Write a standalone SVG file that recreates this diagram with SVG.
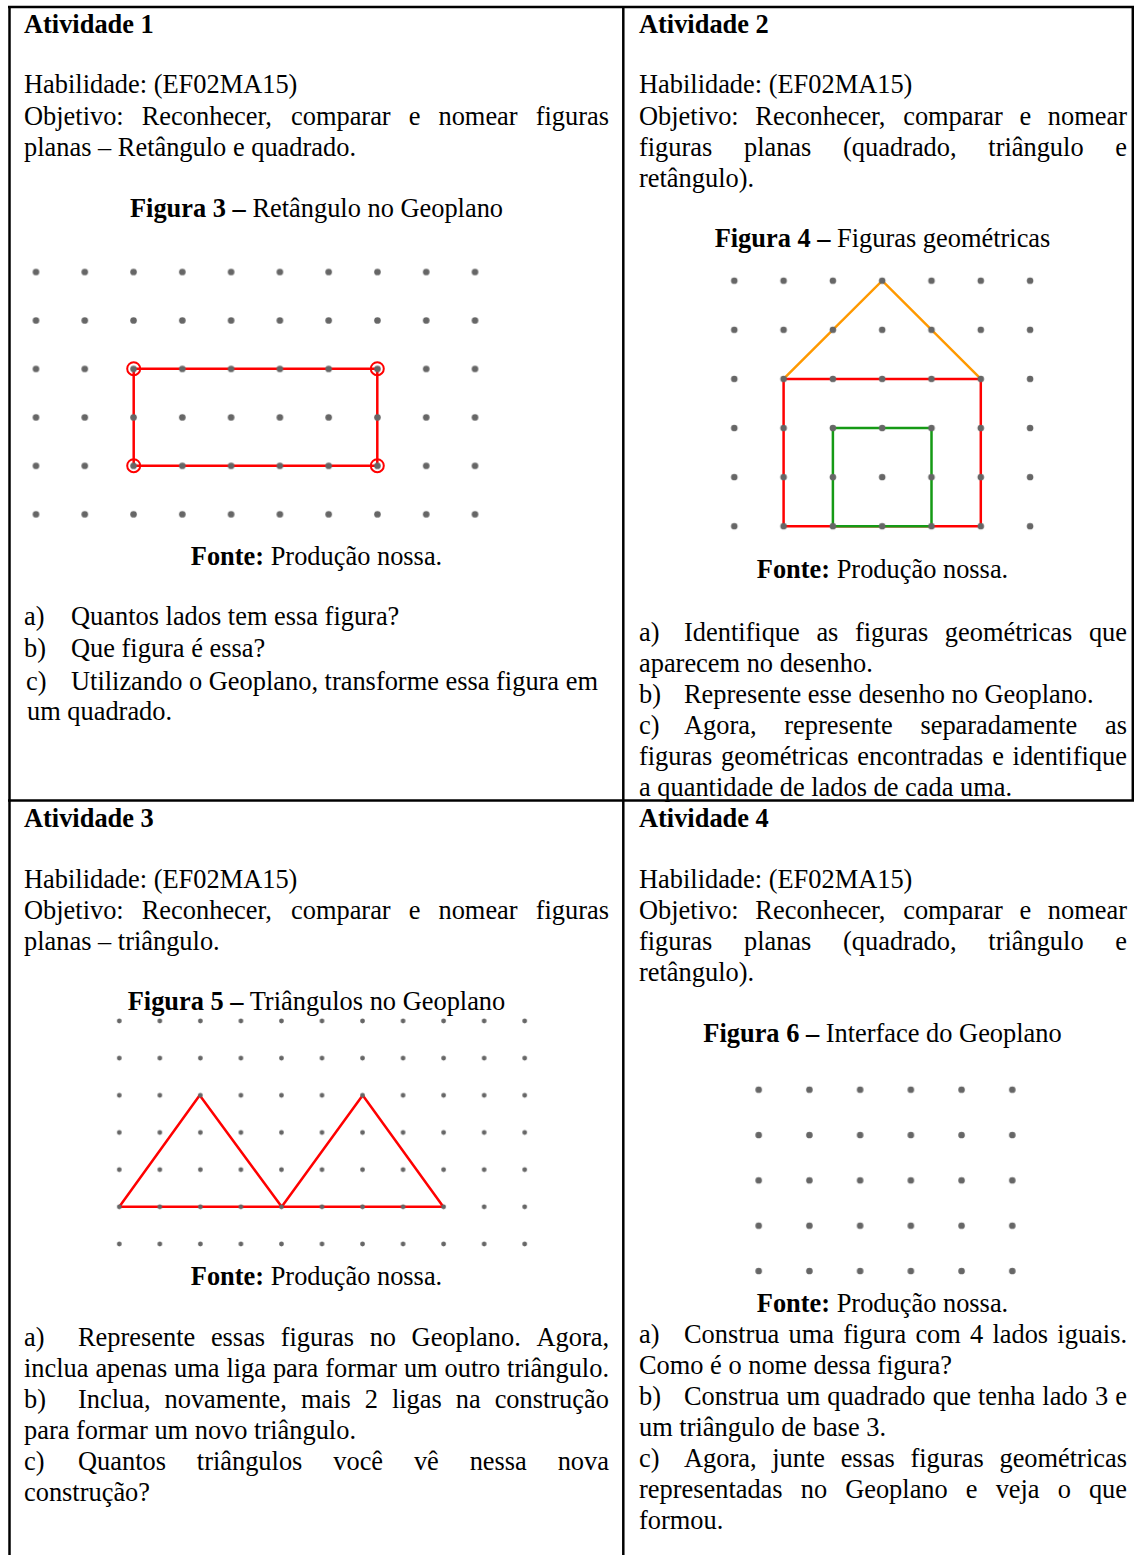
<svg xmlns="http://www.w3.org/2000/svg" width="1134" height="1555" viewBox="0 0 1134 1555">
<style>
text{font-family:"Liberation Serif","Times New Roman",serif;font-size:26.4px;fill:#000}
.b{font-weight:bold}
.c{text-anchor:middle}
.grid line,.tb{stroke:#000;stroke-width:2.5}
.red{fill:none;stroke:#ff0000;stroke-width:2.5;stroke-linejoin:round}
.org{fill:none;stroke:#ff9900;stroke-width:2.5}
.grn{fill:none;stroke:#159a15;stroke-width:2.5}
.ring{fill:none;stroke:#ff0000;stroke-width:2}
</style>
<defs>
<pattern id="p3" patternUnits="userSpaceOnUse" x="11.61" y="247.77" width="48.78" height="48.46"><circle cx="24.39" cy="24.23" r="3.3" fill="#666"/></pattern>
<pattern id="p4" patternUnits="userSpaceOnUse" x="709.65" y="256.15" width="49.3" height="49.1"><circle cx="24.65" cy="24.55" r="3.3" fill="#666"/></pattern>
<pattern id="p5" patternUnits="userSpaceOnUse" x="99.03" y="1002.415" width="40.54" height="37.17"><circle cx="20.27" cy="18.585" r="2.4" fill="#666"/></pattern>
<pattern id="p6" patternUnits="userSpaceOnUse" x="733.34" y="1067.035" width="50.72" height="45.33"><circle cx="25.36" cy="22.665" r="3.3" fill="#666"/></pattern>
</defs>
<rect width="1134" height="1555" fill="#fff"/>
<g id="table" class="grid">
<line x1="8" y1="7" x2="1134" y2="7"/>
<line x1="9.5" y1="6" x2="9.5" y2="1555"/>
<line x1="623.3" y1="6" x2="623.3" y2="1555"/>
<line x1="1132.8" y1="6" x2="1132.8" y2="801"/>
<line x1="8" y1="800.5" x2="1134" y2="800.5"/>
</g>
<g id="atividade1">
<text x="24" y="33" class="b">Atividade 1</text>
<text x="24" y="93">Habilidade: (EF02MA15)</text>
<text y="125"><tspan x="24">Objetivo:</tspan><tspan x="141.77">Reconhecer,</tspan><tspan x="291.01">comparar</tspan><tspan x="408.73">e</tspan><tspan x="438.48">nomear</tspan><tspan x="535.68">figuras</tspan></text>
<text x="24" y="156">planas – Retângulo e quadrado.</text>
<text x="316.5" y="217" class="c"><tspan class="b">Figura 3 –</tspan> Retângulo no Geoplano</text>
<g id="fig3">
<rect class="red" x="133.7" y="368.7" width="243.6" height="97"/>
<rect x="20" y="255" width="475" height="275" fill="url(#p3)"/>
<circle class="ring" cx="133.7" cy="368.7" r="6.5"/>
<circle class="ring" cx="377.3" cy="368.7" r="6.5"/>
<circle class="ring" cx="133.7" cy="465.7" r="6.5"/>
<circle class="ring" cx="377.3" cy="465.7" r="6.5"/>
</g>
<text x="316.5" y="565" class="c"><tspan class="b">Fonte:</tspan> Produção nossa.</text>
<text x="24" y="625">a)</text><text x="71" y="625">Quantos lados tem essa figura?</text>
<text x="24" y="657">b)</text><text x="71" y="657">Que figura é essa?</text>
<text x="26" y="690">c)</text><text x="71" y="690">Utilizando o Geoplano, transforme essa figura em</text>
<text x="27" y="720">um quadrado.</text>
</g>
<g id="atividade2">
<text x="639" y="33" class="b">Atividade 2</text>
<text x="639" y="93">Habilidade: (EF02MA15)</text>
<text y="125"><tspan x="639">Objetivo:</tspan><tspan x="755.36">Reconhecer,</tspan><tspan x="903.19">comparar</tspan><tspan x="1019.5">e</tspan><tspan x="1047.84">nomear</tspan></text>
<text y="156"><tspan x="639">figuras</tspan><tspan x="743.95">planas</tspan><tspan x="843.04">(quadrado,</tspan><tspan x="988.31">triângulo</tspan><tspan x="1115.28">e</tspan></text>
<text x="639" y="187">retângulo).</text>
<text x="882.5" y="247" class="c"><tspan class="b">Figura 4 –</tspan> Figuras geométricas</text>
<g id="fig4">
<polyline class="org" points="783.6,378.9 882.2,280.7 980.8,378.9"/>
<rect class="red" x="783.6" y="378.9" width="197.2" height="147.3"/>
<polyline class="grn" points="832.9,526.2 832.9,428 931.5,428 931.5,526.2"/>
<line class="grn" x1="832.9" y1="526.2" x2="931.5" y2="526.2"/>
<rect x="720" y="265" width="325" height="275" fill="url(#p4)"/>
</g>
<text x="882.5" y="578" class="c"><tspan class="b">Fonte:</tspan> Produção nossa.</text>
<text y="641"><tspan x="639">a)</tspan><tspan x="684">Identifique</tspan><tspan x="816.39">as</tspan><tspan x="854.93">figuras</tspan><tspan x="944.79">geométricas</tspan><tspan x="1088.9">que</tspan></text>
<text x="639" y="672">aparecem no desenho.</text>
<text x="639" y="703">b)</text><text x="684" y="703">Represente esse desenho no Geoplano.</text>
<text y="734"><tspan x="639">c)</tspan><tspan x="684">Agora,</tspan><tspan x="784.27">represente</tspan><tspan x="920.45">separadamente</tspan><tspan x="1105.02">as</tspan></text>
<text y="765"><tspan x="639">figuras</tspan><tspan x="721.04">geométricas</tspan><tspan x="857.33">encontradas</tspan><tspan x="992.15">e</tspan><tspan x="1012.6">identifique</tspan></text>
<text x="639" y="796">a quantidade de lados de cada uma.</text>
</g>
<g id="atividade3">
<text x="24" y="827" class="b">Atividade 3</text>
<text x="24" y="888">Habilidade: (EF02MA15)</text>
<text y="919"><tspan x="24">Objetivo:</tspan><tspan x="141.77">Reconhecer,</tspan><tspan x="291.01">comparar</tspan><tspan x="408.73">e</tspan><tspan x="438.48">nomear</tspan><tspan x="535.68">figuras</tspan></text>
<text x="24" y="950">planas – triângulo.</text>
<g id="fig5">
<polyline class="red" points="119.3,1206.8 199.7,1095.3 281.7,1206.8 362.7,1095.3 443.3,1206.8 119.3,1206.8"/>
<rect x="110" y="1010" width="425" height="245" fill="url(#p5)"/>
</g>
<text x="316.5" y="1010" class="c"><tspan class="b">Figura 5 –</tspan> Triângulos no Geoplano</text>
<text x="316.5" y="1285" class="c"><tspan class="b">Fonte:</tspan> Produção nossa.</text>
<text y="1346"><tspan x="24">a)</tspan><tspan x="78">Represente</tspan><tspan x="210.89">essas</tspan><tspan x="280.73">figuras</tspan><tspan x="369.63">no</tspan><tspan x="411.62">Geoplano.</tspan><tspan x="536.45">Agora,</tspan></text>
<text x="24" y="1377" word-spacing="0.3">inclua apenas uma liga para formar um outro triângulo.</text>
<text y="1408"><tspan x="24">b)</tspan><tspan x="78">Inclua,</tspan><tspan x="164.53">novamente,</tspan><tspan x="300.93">mais</tspan><tspan x="364.76">2</tspan><tspan x="391.92">ligas</tspan><tspan x="455.75">na</tspan><tspan x="494.63">construção</tspan></text>
<text x="24" y="1439">para formar um novo triângulo.</text>
<text y="1470"><tspan x="24">c)</tspan><tspan x="78">Quantos</tspan><tspan x="196.82">triângulos</tspan><tspan x="333.25">você</tspan><tspan x="413.92">vê</tspan><tspan x="469.67">nessa</tspan><tspan x="557.68">nova</tspan></text>
<text x="24" y="1501">construção?</text>
</g>
<g id="atividade4">
<text x="639" y="827" class="b">Atividade 4</text>
<text x="639" y="888">Habilidade: (EF02MA15)</text>
<text y="919"><tspan x="639">Objetivo:</tspan><tspan x="755.36">Reconhecer,</tspan><tspan x="903.19">comparar</tspan><tspan x="1019.5">e</tspan><tspan x="1047.84">nomear</tspan></text>
<text y="950"><tspan x="639">figuras</tspan><tspan x="743.95">planas</tspan><tspan x="843.04">(quadrado,</tspan><tspan x="988.31">triângulo</tspan><tspan x="1115.28">e</tspan></text>
<text x="639" y="981">retângulo).</text>
<text x="882.5" y="1042" class="c"><tspan class="b">Figura 6 –</tspan> Interface do Geoplano</text>
<g id="fig6">
<rect x="745" y="1075" width="280" height="210" fill="url(#p6)"/>
</g>
<text x="882.5" y="1312" class="c"><tspan class="b">Fonte:</tspan> Produção nossa.</text>
<text y="1343"><tspan x="639">a)</tspan><tspan x="684">Construa</tspan><tspan x="788.52">uma</tspan><tspan x="843.17">figura</tspan><tspan x="915.4">com</tspan><tspan x="970.05">4</tspan><tspan x="992.44">lados</tspan><tspan x="1057.36">iguais.</tspan></text>
<text x="639" y="1374">Como é o nome dessa figura?</text>
<text y="1405"><tspan x="639">b)</tspan><tspan x="684">Construa</tspan><tspan x="786.48">um</tspan><tspan x="827.37">quadrado</tspan><tspan x="932.75">que</tspan><tspan x="978.02">tenha</tspan><tspan x="1042.35">lado</tspan><tspan x="1094.96">3</tspan><tspan x="1115.31">e</tspan></text>
<text x="639" y="1436">um triângulo de base 3.</text>
<text y="1467"><tspan x="639">c)</tspan><tspan x="684">Agora,</tspan><tspan x="772.2">junte</tspan><tspan x="840.63">essas</tspan><tspan x="910.51">figuras</tspan><tspan x="999.45">geométricas</tspan></text>
<text y="1498"><tspan x="639">representadas</tspan><tspan x="800.72">no</tspan><tspan x="845.17">Geoplano</tspan><tspan x="965.86">e</tspan><tspan x="995.63">veja</tspan><tspan x="1057.66">o</tspan><tspan x="1088.91">que</tspan></text>
<text x="639" y="1529">formou.</text>
</g>
</svg>
